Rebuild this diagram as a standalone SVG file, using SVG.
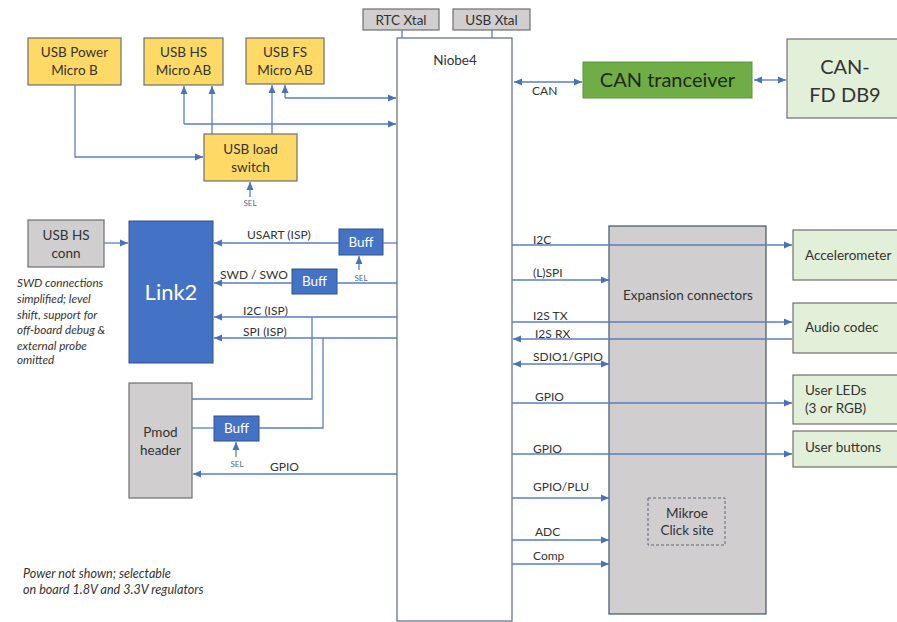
<svg xmlns="http://www.w3.org/2000/svg" width="897" height="622" viewBox="0 0 897 622">
<defs>
<marker id="ah" viewBox="0 0 8 8" refX="8" refY="4" markerWidth="8" markerHeight="8" markerUnits="userSpaceOnUse" orient="auto-start-reverse">
<path d="M0,0.5 L8,4 L0,7.5 z" fill="#4A72B8"/>
</marker>
</defs>
<style>
text{font-family:Lato,"Noto Sans","Liberation Sans",sans-serif;fill:#333;}
.c{stroke:#5A7FBF;stroke-width:1.3;fill:none;}
.a{marker-end:url(#ah);}
.d{marker-start:url(#ah);marker-end:url(#ah);}
.y{fill:#FFD966;stroke:#6F6F6F;stroke-width:1.2;}
.g{fill:#D0CECE;stroke:#6F6F6F;stroke-width:1.2;}
.b{fill:#4472C4;stroke:#2F528F;stroke-width:1;}
.lg{fill:#E2F0D9;stroke:#6F6F6F;stroke-width:1.2;}
.w{fill:#fff;stroke:#5A6A80;stroke-width:1.2;}
.t{font-size:13.5px;text-anchor:middle;}
.l{font-size:12px;}
.s{font-size:8px;fill:#4A6A9A;text-anchor:middle;}
.bt{font-size:13.5px;fill:#fff;text-anchor:middle;}
.i{font-size:11.7px;font-style:italic;}
.p{font-size:12.6px;font-style:italic;}
</style>

<g id="usb-power"><rect class="y" x="28" y="38" width="93" height="47"/><text class="t" x="74.5" y="57">USB Power</text><text class="t" x="74.5" y="75">Micro B</text></g>
<g id="usb-hs"><rect class="y" x="144" y="38" width="79" height="47"/><text class="t" x="183.5" y="57">USB HS</text><text class="t" x="183.5" y="75">Micro AB</text></g>
<g id="usb-fs"><rect class="y" x="246" y="38" width="78" height="46"/><text class="t" x="285" y="57">USB FS</text><text class="t" x="285" y="75">Micro AB</text></g>
<g id="usb-load-switch"><rect class="y" x="204" y="134" width="93" height="47"/><text class="t" x="250.5" y="154">USB load</text><text class="t" x="250.5" y="172">switch</text><text class="s" x="250" y="206">SEL</text></g>

<g id="rtc-xtal"><rect class="g" x="363" y="9" width="76" height="21"/><text class="t" x="401" y="24.5">RTC Xtal</text></g>
<g id="usb-xtal"><rect class="g" x="453" y="9" width="77" height="21"/><text class="t" x="491.5" y="24.5">USB Xtal</text></g>

<g id="niobe4"><rect class="w" x="397" y="38" width="115" height="583"/><text class="t" x="455" y="65">Niobe4</text><text class="l" x="532" y="95">CAN</text></g>

<g id="can-tranceiver"><rect x="583" y="62" width="169" height="36" fill="#70AD47" stroke="#5A9A3A" stroke-width="1"/><text x="667.5" y="87" style="font-size:20px;text-anchor:middle;fill:#1F2A16">CAN tranceiver</text></g>
<g id="can-fd-db9"><rect class="lg" x="787" y="39" width="115" height="79"/><text x="845" y="74" style="font-size:20px;text-anchor:middle">CAN-</text><text x="845" y="102" style="font-size:20px;text-anchor:middle">FD DB9</text></g>

<g id="usb-hs-conn"><rect class="g" x="28" y="220" width="76" height="47"/><text class="t" x="66" y="240">USB HS</text><text class="t" x="66" y="258">conn</text></g>
<g id="note-swd">
<text class="i" x="17" y="287">SWD connections</text>
<text class="i" x="17" y="303">simplified; level</text>
<text class="i" x="17" y="319">shift, support for</text>
<text class="i" x="17" y="334">off-board debug &amp;</text>
<text class="i" x="17" y="350">external probe</text>
<text class="i" x="17" y="364">omitted</text>
</g>

<g id="link2"><rect class="b" x="129" y="221" width="84" height="142"/><text x="171" y="300" style="font-size:22px;fill:#fff;text-anchor:middle">Link2</text>
<text class="l" x="247" y="239">USART (ISP)</text>
<text class="l" x="220" y="279">SWD / SWO</text>
<text class="l" x="243" y="315">I2C (ISP)</text>
<text class="l" x="243" y="336">SPI (ISP)</text>
<text class="l" x="270" y="471">GPIO</text>
</g>

<g id="buff-usart"><rect class="b" x="339" y="229" width="44" height="26"/><text class="bt" x="361" y="247">Buff</text><text class="s" x="361" y="281">SEL</text></g>
<g id="buff-swd"><rect class="b" x="292" y="269" width="45" height="25"/><text class="bt" x="314.5" y="286">Buff</text></g>

<g id="pmod-header"><rect class="g" x="129" y="383" width="63" height="115"/><text class="t" x="160.5" y="437">Pmod</text><text class="t" x="160.5" y="455">header</text></g>
<g id="buff-pmod"><rect class="b" x="214" y="416" width="45" height="25"/><text class="bt" x="236.5" y="433">Buff</text><text class="s" x="237" y="467">SEL</text></g>

<g id="note-power">
<text class="p" x="23" y="578">Power not shown; selectable</text>
<text class="p" x="23" y="594">on board 1.8V and 3.3V regulators</text>
</g>

<g id="expansion-connectors"><rect x="609" y="226" width="157" height="388" fill="#D0CECE" stroke="#44546A" stroke-width="1.2"/><text class="t" x="688" y="300">Expansion connectors</text>
<rect x="648" y="498" width="77" height="47" fill="none" stroke="#5A6A80" stroke-width="1" stroke-dasharray="3,2"/><text class="t" x="687" y="518">Mikroe</text><text class="t" x="687" y="535">Click site</text>
<text class="l" x="533" y="244">I2C</text>
<text class="l" x="533" y="277">(L)SPI</text>
<text class="l" x="533" y="320">I2S TX</text>
<text class="l" x="535" y="338">I2S RX</text>
<text class="l" x="533" y="361">SDIO1/GPIO</text>
<text class="l" x="535" y="401">GPIO</text>
<text class="l" x="533" y="453">GPIO</text>
<text class="l" x="533" y="491">GPIO/PLU</text>
<text class="l" x="535" y="536">ADC</text>
<text class="l" x="533" y="560">Comp</text>
</g>

<g id="accelerometer"><rect class="lg" x="793" y="230" width="110" height="50"/><text x="805" y="260" style="font-size:13.5px">Accelerometer</text></g>
<g id="audio-codec"><rect class="lg" x="793" y="303" width="110" height="50"/><text x="805" y="332" style="font-size:13.5px">Audio codec</text></g>
<g id="user-leds"><rect class="lg" x="793" y="375" width="110" height="49"/><text x="805" y="395" style="font-size:13.5px">User LEDs</text><text x="805" y="413" style="font-size:13.5px">(3 or RGB)</text></g>
<g id="user-buttons"><rect class="lg" x="793" y="431" width="110" height="36"/><text x="805" y="452" style="font-size:13.5px">User buttons</text></g>

<g id="connectors">
<polyline class="c a" points="75,85 75,157 203,157"/>
<line class="c a" x1="184" y1="124" x2="184" y2="86"/>
<line class="c a" x1="184" y1="124" x2="396" y2="124"/>
<line class="c a" x1="212" y1="134" x2="212" y2="86"/>
<line class="c a" x1="272" y1="134" x2="272" y2="85"/>
<line class="c a" x1="285" y1="98" x2="285" y2="85"/>
<line class="c a" x1="285" y1="98" x2="396" y2="98"/>
<line class="c a" x1="250" y1="197" x2="250" y2="182"/>
<line class="c" x1="402" y1="30" x2="402" y2="38"/>
<line class="c" x1="492" y1="30" x2="492" y2="38"/>
<line class="c d" x1="514" y1="82" x2="582" y2="82"/>
<line class="c d" x1="754" y1="80" x2="786" y2="80"/>
<line class="c a" x1="104" y1="243" x2="128" y2="243"/>
<line class="c" x1="397" y1="243" x2="383" y2="243"/>
<line class="c a" x1="339" y1="243" x2="214" y2="243"/>
<line class="c a" x1="359" y1="270" x2="359" y2="256"/>
<line class="c" x1="397" y1="283" x2="337" y2="283"/>
<line class="c a" x1="292" y1="283" x2="214" y2="283"/>
<line class="c a" x1="397" y1="317" x2="214" y2="317"/>
<line class="c a" x1="397" y1="338" x2="214" y2="338"/>
<polyline class="c" points="312,317 312,399 192,399"/>
<polyline class="c" points="323,338 323,428 259,428"/>
<line class="c" x1="214" y1="428" x2="192" y2="428"/>
<line class="c a" x1="236" y1="457" x2="236" y2="442"/>
<line class="c a" x1="397" y1="474" x2="193" y2="474"/>
<line class="c a" x1="512" y1="245" x2="792" y2="245"/>
<line class="c a" x1="512" y1="280" x2="609" y2="280"/>
<line class="c a" x1="512" y1="322" x2="792" y2="322"/>
<line class="c a" x1="792" y1="339" x2="513" y2="339"/>
<line class="c d" x1="513" y1="364" x2="609" y2="364"/>
<line class="c a" x1="512" y1="403" x2="792" y2="403"/>
<line class="c a" x1="512" y1="454" x2="792" y2="454"/>
<line class="c a" x1="512" y1="498" x2="609" y2="498"/>
<line class="c a" x1="512" y1="540" x2="609" y2="540"/>
<line class="c a" x1="512" y1="564" x2="609" y2="564"/>
</g>
</svg>
